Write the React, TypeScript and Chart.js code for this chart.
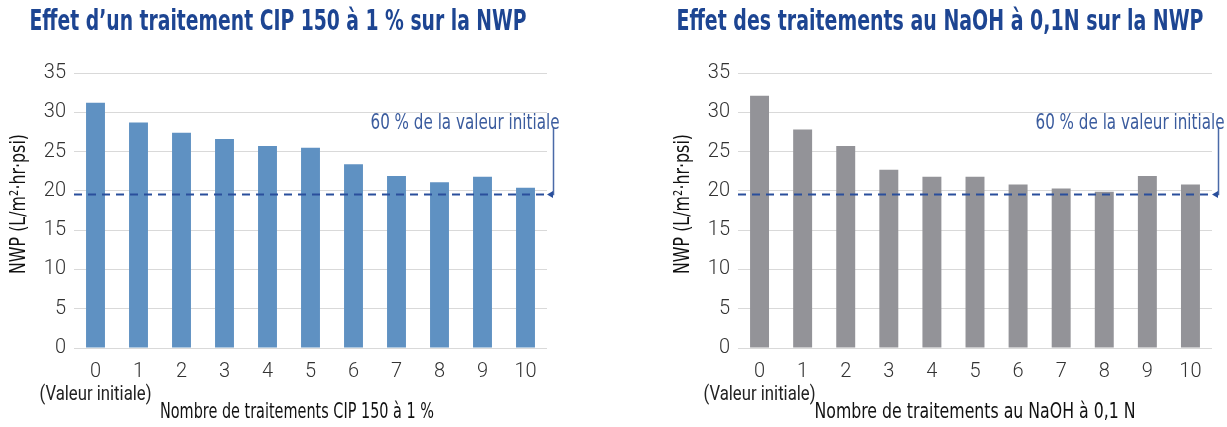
import React, { useEffect, useRef } from "react";
import { Chart, registerables } from "chart.js";

Chart.register(...registerables);

const categories = ["0", "1", "2", "3", "4", "5", "6", "7", "8", "9", "10"];
const cipValues = [31.2, 28.7, 27.4, 26.6, 25.7, 25.5, 23.4, 21.9, 21.1, 21.8, 20.4];
const naohValues = [32.1, 27.8, 25.7, 22.7, 21.8, 21.8, 20.8, 20.3, 19.9, 21.9, 20.8];
const cipThreshold = 19.6;
const naohThreshold = 19.6;
const yTickMax = 35;
const yTickStep = 5;

const cipTitle = "Effet d\u2019un traitement CIP 150 \u00e0 1 % sur la NWP";
const naohTitle = "Effet des traitements au NaOH \u00e0 0,1N sur la NWP";
const cipXTitle = "Nombre de traitements CIP 150 \u00e0 1 %";
const naohXTitle = "Nombre de traitements au NaOH \u00e0 0,1 N";
const yTitle = "NWP (L/m\u00b2\u00b7hr\u00b7psi)";
const thresholdLabel = "60 % de la valeur initiale";
const firstSubLabel = "(Valeur initiale)";

const FAMILY = '"Liberation Sans Narrow", "DejaVu Sans Condensed", "Roboto", sans-serif';
const TICK_FAMILY = '"Liberation Sans Narrow", "Roboto", sans-serif';

type Spec = {
  values: number[];
  color: string;
  threshold: number;
  title: string;
  xTitle: string;
  width: number;
  padLeft: number;
  padRight: number;
  titleX: number;
  titleW: number;
  xTitleX: number;
  xTitleW: number;
};

function makeExtras(spec: Spec) {
  return {
    id: "extras",
    afterDraw(chart: any) {
      const ctx = chart.ctx as CanvasRenderingContext2D;
      const area = chart.chartArea;
      const y = chart.scales.y;
      const x = chart.scales.x;
      const ty = Math.round(y.getPixelForValue(spec.threshold)) + 0.5;
      ctx.save();
      // title
      ctx.fillStyle = "#1d4592";
      ctx.font = `bold 28px ${FAMILY}`;
      ctx.textAlign = "center";
      ctx.textBaseline = "middle";
      ctx.fillText(spec.title, spec.titleX, 23, spec.titleW);
      // y title
      ctx.save();
      ctx.translate(y.left + 20, 204);
      ctx.rotate(-Math.PI / 2);
      ctx.fillStyle = "#111111";
      ctx.font = `21px ${FAMILY}`;
      ctx.fillText(yTitle, 0, 0, 140);
      ctx.restore();
      // sub label under first category
      ctx.fillStyle = "#222222";
      ctx.font = `20px ${TICK_FAMILY}`;
      ctx.fillText(firstSubLabel, x.getPixelForValue(0), 395, 112);
      // x title
      ctx.fillStyle = "#111111";
      ctx.font = `21px ${FAMILY}`;
      ctx.fillText(spec.xTitle, spec.xTitleX, 413, spec.xTitleW);
      // dashed threshold line
      const tipX = area.right + 1;
      const vx = area.right + 6.5;
      ctx.strokeStyle = "#2a4f9c";
      ctx.lineWidth = 2;
      ctx.setLineDash([8, 6]);
      ctx.beginPath();
      ctx.moveTo(area.left, ty);
      ctx.lineTo(tipX - 4, ty);
      ctx.stroke();
      ctx.setLineDash([]);
      // connector
      ctx.strokeStyle = "#4a6aa8";
      ctx.lineWidth = 1.5;
      ctx.beginPath();
      ctx.moveTo(vx, 128);
      ctx.lineTo(vx, ty);
      ctx.lineTo(tipX + 2, ty);
      ctx.stroke();
      ctx.fillStyle = "#2a4f9c";
      ctx.beginPath();
      ctx.moveTo(tipX - 1, ty);
      ctx.lineTo(tipX + 5, ty - 3.5);
      ctx.lineTo(tipX + 5, ty + 3.5);
      ctx.closePath();
      ctx.fill();
      // threshold label
      ctx.fillStyle = "#3b5c9e";
      ctx.font = `21px ${FAMILY}`;
      ctx.textAlign = "right";
      ctx.textBaseline = "alphabetic";
      ctx.fillText(thresholdLabel, vx + 6, 129, 189);
      ctx.restore();
    },
  };
}

function BarChart({ spec, left }: { spec: Spec; left: number }) {
  const ref = useRef<HTMLCanvasElement | null>(null);
  useEffect(() => {
    if (!ref.current) return;
    const chart = new Chart(ref.current, {
      type: "bar",
      data: {
        labels: categories,
        datasets: [
          {
            data: spec.values,
            backgroundColor: spec.color,
            barPercentage: 0.44,
            categoryPercentage: 1,
          },
        ],
      },
      options: {
        responsive: false,
        animation: false,
        devicePixelRatio: 1,
        layout: { padding: { left: spec.padLeft, right: spec.padRight, top: 73, bottom: 0 } },
        plugins: { legend: { display: false }, tooltip: { enabled: false }, title: { display: false } },
        scales: {
          x: {
            grid: { display: false, drawTicks: false },
            border: { display: false },
            ticks: {
              color: "#333333",
              font: { family: TICK_FAMILY, size: 20, weight: "300" },
              padding: 12,
              maxRotation: 0,
              autoSkip: false,
            },
            afterFit: (s: any) => {
              s.height = 79;
            },
          },
          y: {
            min: 0,
            max: yTickMax,
            grid: { color: "#d9d9d9", lineWidth: 1, drawTicks: false },
            border: { display: false },
            ticks: {
              stepSize: yTickStep,
              color: "#333333",
              font: { family: TICK_FAMILY, size: 20, weight: "300" },
              padding: 8,
            },
            afterFit: (s: any) => {
              s.width = 74;
            },
          },
        },
      },
      plugins: [makeExtras(spec)],
    } as any);
    return () => chart.destroy();
  }, []);
  return (
    <canvas
      ref={ref}
      width={spec.width}
      height={427}
      style={{ position: "absolute", left, top: 0, width: spec.width, height: 427 }}
    />
  );
}

export default function App() {
  const cip: Spec = {
    values: cipValues,
    color: "#5f91c2",
    threshold: cipThreshold,
    title: cipTitle,
    xTitle: cipXTitle,
    width: 613,
    padLeft: 0,
    padRight: 66,
    titleX: 278,
    titleW: 497,
    xTitleX: 297,
    xTitleW: 274,
  };
  const naoh: Spec = {
    values: naohValues,
    color: "#939398",
    threshold: naohThreshold,
    title: naohTitle,
    xTitle: naohXTitle,
    width: 614,
    padLeft: 51,
    padRight: 15,
    titleX: 327,
    titleW: 527,
    xTitleX: 362,
    xTitleW: 321,
  };
  return (
    <div style={{ position: "absolute", left: 0, top: 0, width: 1227, height: 427, background: "#fff" }}>
      <BarChart spec={cip} left={0} />
      <BarChart spec={naoh} left={613} />
    </div>
  );
}
